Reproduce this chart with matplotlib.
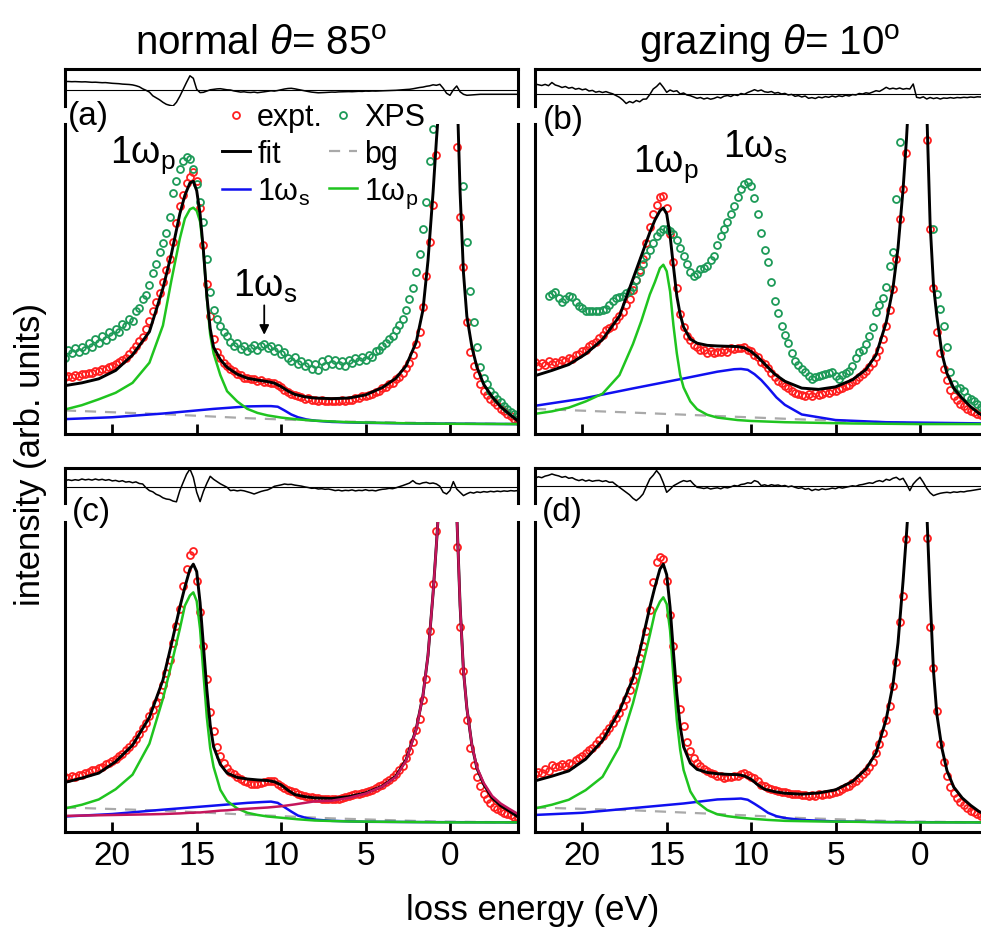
from matplotlib import pyplot as plt
from matplotlib.lines import Line2D
import numpy as np

plt.rcParams['font.family'] = ['Liberation Sans', 'DejaVu Sans']
plt.rcParams['mathtext.fontset'] = 'custom'
plt.rcParams['mathtext.rm'] = 'Liberation Sans'
plt.rcParams['mathtext.it'] = 'Liberation Sans:italic'
plt.rcParams['mathtext.bf'] = 'Liberation Sans:bold'

# ---------------------------------------------------------------- data
# measurement grid of the spectra (loss energy, eV), 0.2 eV steps
e_pts = np.round(np.linspace(22.8, -4.0, 135), 1)

# grids used for the fitted curves
e_fit = [22.8, 21.8, 20.8, 19.8, 18.8, 17.8, 17.0, 16.5, 16.0, 15.7, 15.4, 15.2, 15.0,
         14.8, 14.6, 14.4, 14.2, 14.0, 13.6, 13.2, 12.6, 12.0, 11.4, 10.8, 10.4, 10.0,
         9.6, 9.2, 8.6, 8.0, 7.0, 6.0, 5.0, 4.0, 3.2, 2.6, 2.0, 1.6, 1.3, 1.0, 0.8, 0.6,
         0.4, 0.0, -0.4, -0.6, -0.8, -1.0, -1.3, -1.6, -2.0, -2.5, -3.0, -3.5, -4.0]
e_p = [22.8, 21.8, 20.8, 19.8, 18.8, 17.8, 17.0, 16.5, 16.0, 15.7, 15.4, 15.2, 15.0,
       14.8, 14.6, 14.4, 14.2, 14.0, 13.6, 13.2, 12.6, 12.0, 11.4, 10.8, 10.0, 9.0,
       8.0, 6.0, 4.0, 2.0, 0.0, -4.0]
e_s = [22.8, 20.0, 17.0, 14.0, 12.0, 11.0, 10.6, 10.2, 9.8, 9.4, 9.0, 8.5, 8.0, 7.0,
       5.0, 2.0, -4.0]
e_bg = [22.8, 17.0, 12.0, 7.0, 1.0, -4.0]

# --- (a) normal, clean
expt_a = [18.3, 18.7, 18.4, 19.0, 18.8, 19.4, 19.2, 19.8, 19.6, 20.2,
          20.3, 20.9, 21.0, 21.6, 21.8, 22.6, 23.1, 24.0, 24.4, 25.7,
          27.0, 28.4, 29.9, 31.4, 33.8, 36.5, 39.7, 42.5, 45.4, 49.0,
          52.8, 56.5, 62.0, 68.0, 73.5, 77.0, 81.0, 83.0, 84.4, 81.5,
          73.0, 61.0, 48.5, 38.0, 30.5, 26.4, 24.5, 23.0, 22.0, 21.0,
          20.2, 19.5, 18.9, 18.2, 18.2, 17.7, 17.7, 17.2, 17.3, 16.9,
          16.9, 16.4, 16.3, 15.8, 15.3, 14.3, 13.7, 13.0, 12.7, 12.1,
          11.9, 11.4, 11.5, 11.1, 11.1, 10.8, 10.9, 10.7, 10.8, 10.7,
          10.8, 10.7, 10.9, 10.8, 11.1, 11.1, 11.5, 11.6, 12.1, 12.2,
          12.7, 12.9, 13.4, 13.8, 14.7, 15.1, 16.1, 16.5, 17.6, 18.4,
          19.8, 21.2, 23.0, 25.5, 29.0, 32.8, 41.0, 51.0, 61.8, 74.0,
          90.0, 112, 140, 200, 300, 200, 92.5, 70, 54, 36,
          26.5, 22.0, 19.0, 16.0, 14.0, 12.5, 11.4, 10.2, 9.2, 8.2,
          7.3, 6.5, 5.8, 4.9, 4.3]
xps_a = [24.5, 27.0, 26.0, 27.6, 26.4, 28.0, 27.2, 29.5, 28.2, 30.6,
         29.4, 31.5, 30.2, 32.8, 31.5, 34.0, 33.0, 35.5, 34.8, 37.2,
         36.6, 39.8, 40.5, 43.5, 45.0, 48.0, 52.0, 55.0, 58.6, 61.5,
         65.0, 70.0, 77.9, 81.5, 85.5, 88.0, 89.3, 88.7, 85.5, 80.5,
         74.7, 68.3, 56.5, 45.7, 40.0, 37.0, 35.0, 33.0, 31.7, 29.8,
         28.5, 29.2, 27.4, 28.3, 26.8, 27.6, 28.6, 27.2, 28.4, 28.9,
         27.6, 28.3, 26.8, 27.6, 25.8, 26.5, 24.4, 23.6, 24.8, 22.6,
         23.4, 21.8, 22.9, 21.0, 22.6, 20.8, 23.4, 22.0, 24.1, 22.5,
         23.8, 22.2, 23.5, 22.0, 23.9, 22.8, 24.5, 23.4, 24.9, 24.0,
         25.6, 25.0, 26.8, 27.0, 28.5, 29.4, 30.6, 31.5, 33.4, 35.2,
         37.1, 40.0, 43.6, 47.0, 52.2, 58.0, 66.0, 75.0, 88.0, 98.4,
         115, 140, 180, 240, 300, 240, 130, 102, 80, 61.8,
         46.0, 36.0, 28.0, 21.5, 18.0, 16.0, 14.0, 12.5, 11.3, 10.2,
         9.0, 8.0, 7.2, 6.5, 5.8]
fit_a = [15.6, 16.5, 17.8, 20.5, 25.5, 33, 47, 58, 71, 77, 81, 81.5, 78.5,
         71, 59, 44.5, 34, 28, 24, 21.5, 19.3, 18, 17.4, 16.9, 16.4, 15.3,
         13.9, 12.8, 12, 11.6, 11.4, 11.6, 12.6, 15, 18, 22, 29.6, 40, 56, 78, 95, 110,
         140, 500, 115, 78, 52, 38, 28, 21.5, 16, 12, 8.8, 6.5, 4.3]
wp_a = [7.9, 9.3, 11.2, 13.3, 16.5, 23, 35, 49.5, 63, 69.5, 72.5, 73, 72,
        68.5, 59, 44, 32, 26, 19, 13.8, 10.5, 8.1, 6.8, 6.0, 5.3, 4.7,
        4.3, 3.8, 3.6, 3.4, 3.3, 3.2]
ws_a = [4.8, 5.4, 6.6, 8.1, 8.9, 9.0, 9.0, 8.8, 7.6, 6.3, 5.4, 4.7, 4.3, 3.9,
        3.6, 3.4, 3.2]
bg_a = [7.6, 6.4, 5.1, 4.1, 3.5, 3.2]
res_a = [8.8, 8.8, 8.6, 8.7, 8.5, 8.4, 8.5, 8.2, 8.0, 8.1,
         7.8, 7.6, 7.7, 7.3, 7.0, 6.8, 6.6, 6.2, 6.0, 5.8,
         5.4, 4.6, 3.5, 1.5, 0.0, -1.8, -5.5, -7.5, -9.5, -12.0,
         -14.0, -15.0, -15.7, -12.0, -6.0, 1.0, 8.0, 14.5, 12.0, 1.0,
         -2.3, -2.0, -0.8, 0.5, 1.0, 1.4, 1.6, 1.0, 0.5, 0.3,
         -0.6, -1.2, -1.8, -1.5, -2.0, -2.2, -1.8, -2.4, -2.0, -1.5,
         -1.0, -0.5, -0.8, -0.2, 0.6, 1.3, 1.8, 2.0, 1.5, 0.8,
         0.2, -0.5, -1.2, -1.8, -2.2, -2.5, -2.4, -2.2, -2.0, -1.8,
         -1.9, -1.6, -1.5, -1.5, -1.3, -1.4, -1.2, -1.0, -1.1, -0.8,
         -0.9, -0.7, -0.8, -0.6, -0.5, -0.4, -0.2, -0.2, 0.0, 0.3,
         0.6, 0.8, 1.0, 1.5, 2.2, 2.8, 3.2, 4.0, 4.5, 5.5,
         5.0, 6.0, 2.0, -3.0, -5.0, 0.5, 4.3, -1.5, -4.0, -5.0,
         -4.8, -4.5, -4.2, -4.0, -4.0, -4.1, -3.9, -4.0, -4.0, -4.1,
         -4.0, -3.9, -4.0, -4.0, -4.0]

# --- (b) grazing, clean
expt_b = [23.1, 22.0, 22.9, 22.3, 23.6, 22.5, 23.3, 22.9, 23.8, 23.4,
          24.6, 24.2, 25.6, 25.8, 26.9, 27.0, 28.4, 28.9, 29.6, 31.0,
          31.8, 33.5, 34.2, 35.0, 36.9, 38.2, 39.5, 41.5, 43.4, 46.5,
          49.6, 53.0, 56.3, 61.5, 66.8, 71.0, 73.8, 76.3, 76.9, 72.8,
          64.5, 55.5, 47.0, 38.8, 34.5, 31.6, 30.2, 28.6, 28.1, 27.0,
          27.2, 26.2, 26.8, 26.0, 26.5, 26.3, 27.2, 26.6, 27.7, 27.3,
          27.9, 27.6, 28.0, 27.2, 26.8, 25.6, 25.0, 23.3, 22.6, 21.2,
          19.8, 18.5, 17.2, 16.4, 15.6, 14.8, 14.0, 13.3, 13.0, 12.6,
          12.3, 12.9, 12.4, 13.1, 12.6, 12.9, 13.5, 13.2, 14.0, 13.8,
          14.5, 14.8, 15.6, 15.8, 16.8, 17.5, 18.4, 19.2, 20.3, 21.6,
          23.0, 25.0, 27.2, 30.8, 35.0, 40.0, 46.8, 56.5, 69.4, 79.0,
          90.5, 115, 150, 220, 320, 220, 95, 66, 47, 33,
          26.0, 21.0, 17.4, 14.3, 12.2, 11.0, 9.8, 9.0, 8.1, 7.5,
          7.0, 6.4, 6.0, 5.6, 5.2]
# XPS of (b) starts at 22.0 eV
xps_b = [44.6, 45.3, 45.7, 44.0, 42.5, 43.5, 44.6, 44.2, 42.6, 41.4,
         40.6, 39.8, 39.8, 39.8, 39.8, 39.8, 40.0, 40.3, 41.5, 43.0,
         43.8, 44.2, 44.6, 45.5, 46.2, 47.5, 49.6, 52.2, 54.8, 57.5,
         59.5, 61.5, 64.0, 65.2, 66.1, 66.1, 65.5, 64.5, 62.5, 60.0,
         57.5, 55.0, 52.2, 51.0, 51.5, 53.3, 53.5, 54.3, 56.0, 57.5,
         61.0, 64.0, 66.0, 68.3, 71.0, 73.7, 76.5, 79.0, 80.5, 81.2,
         80.1, 76.0, 71.0, 65.0, 59.5, 55.5, 49.0, 43.0, 39.0, 35.0,
         31.8, 29.5, 26.0, 23.4, 22.1, 21.0, 19.9, 18.8, 17.7, 18.4,
         18.8, 19.0, 19.4, 19.7, 19.9, 18.6, 17.7, 19.0, 19.6, 20.2,
         22.0, 24.5, 26.3, 27.0, 29.0, 31.5, 34.5, 39.2, 41.5, 44.0,
         47.3, 54.3, 58.6, 75.8, 94.1, 115, 140, 170, 210, 260,
         300, 250, 170, 104, 66.1, 45.2, 40.3, 35.0, 28.0, 19.9,
         16.0, 14.5, 15.0, 14.0, 12.0, 11.3, 10.5, 9.7, 8.6, 8.0,
         7.5]
fit_b = [18.8, 20.5, 22.4, 25.8, 30.5, 38, 50, 57.5, 65, 69, 72, 72.9, 71,
         64, 54, 44.5, 38.5, 34.5, 30.6, 29.3, 28.6, 28.4, 28.3, 28.2, 27.8, 26.6,
         24.8, 22.6, 19.3, 17, 14.8, 14.4, 15.2, 17.5, 20.8, 25.5, 36, 47, 60, 79, 95, 115,
         150, 500, 105, 68, 48, 38, 26, 19.5, 14.8, 11.5, 8.8, 6.6, 5.2]
wp_b = [6.5, 7.3, 8.5, 10.5, 13, 19, 29, 36.5, 45, 49, 53.5, 54.6, 52.5,
        46, 35, 26, 19, 15, 10.5, 8.0, 6.2, 5.3, 4.9, 4.5, 4.2, 4.0,
        3.8, 3.6, 3.4, 3.3, 3.2, 3.2]
ws_b = [9.1, 11.4, 14.7, 17.9, 20.1, 20.9, 21.0, 20.7, 19.3, 17.4, 15.0, 11.8, 9.4,
        6.3, 4.5, 3.8, 3.4]
bg_b = [8.1, 6.9, 5.8, 4.7, 3.6, 3.2]
res_b = [10.0, 9.2, 8.5, 9.6, 8.3, 11.5, 9.0, 8.0, 6.5, 7.5,
         5.8, 6.6, 4.8, 5.6, 4.2, 5.0, 3.0, 3.6, 1.8, 2.6,
         1.5, 2.4, 1.2, 0.2, -1.5, -3.3, -6.0, -9.5, -7.5, -8.8,
         -6.5, -7.8, -5.2, -5.0, -0.5, 5.0, 7.5, 11.0, 6.7, 1.7,
         4.0, 2.5, 3.3, 0.0, 1.0, -1.0, -1.7, -3.0, -4.3, -3.5,
         -5.0, -4.0, -5.2, -4.4, -3.0, -4.0, -2.2, -1.5, -2.5, -0.8,
         -1.5, 0.5, -0.3, 1.5, 2.8, 4.3, 3.0, 4.0, 2.2, 1.7,
         2.5, 0.8, 1.5, 0.0, 0.6, -1.0, -0.4, -2.3, -1.6, -3.0,
         -2.0, -4.3, -3.6, -4.5, -3.0, -3.8, -2.6, -3.3, -2.0, -3.0,
         -1.8, -2.5, -1.2, -2.0, -0.6, -1.0, 0.5, 0.0, 1.2, 0.6,
         2.0, 3.3, 2.6, 4.5, 6.7, 5.0, 5.8, 5.0, 6.0, 4.8,
         5.5, 5.0, 10.0, -3.3, -4.0, -2.8, -5.0, -3.5, -4.6, -3.8,
         -5.0, -4.0, -4.3, -3.6, -4.2, -3.5, -3.8, -3.3, -3.6, -3.0,
         -3.4, -2.8, -3.0, -2.5, -2.6]

# --- (c) normal, second data set (with elastic component)
expt_c = [17.6, 17.4, 18.0, 17.8, 18.5, 18.4, 19.1, 19.3, 19.9, 20.0,
          20.6, 21.0, 21.8, 22.1, 23.0, 23.6, 24.5, 25.2, 26.4, 27.4,
          28.6, 30.0, 31.6, 33.4, 35.2, 37.3, 39.4, 41.6, 44.0, 47.5,
          51.3, 55.5, 61.0, 66.5, 72.0, 79.5, 84.8, 89.5, 90.5, 81.0,
          71.0, 60.1, 49.3, 38.6, 32.5, 27.5, 24.6, 22.3, 20.5, 19.4,
          18.6, 17.8, 17.2, 16.6, 16.0, 15.6, 15.4, 15.5, 15.8, 16.2,
          16.4, 16.6, 16.3, 15.6, 14.9, 14.2, 13.6, 13.1, 12.8, 12.3,
          12.0, 11.7, 11.4, 11.2, 11.0, 10.9, 10.7, 10.6, 10.6, 10.6,
          10.7, 10.8, 11.0, 11.2, 11.5, 11.8, 12.1, 12.4, 12.7, 12.9,
          13.3, 13.7, 14.1, 14.7, 15.2, 16.1, 16.9, 17.6, 18.6, 19.9,
          21.4, 23.8, 26.0, 29.0, 33.0, 36.4, 42.5, 49.3, 64.9, 80.0,
          97.2, 125, 160, 230, 330, 230, 92, 66, 52, 36,
          27.0, 21.5, 17.8, 15.0, 12.4, 10.6, 9.3, 8.2, 7.4, 6.7,
          6.1, 5.8, 5.4, 5.0, 4.2]
fit_c = [16, 17.4, 19, 22.7, 28, 37, 49, 60.5, 72.5, 79, 84.8, 86.4, 84,
         74, 60, 46, 34.5, 27.5, 21.8, 19, 17.6, 17.1, 16.8, 16.6, 16.2, 15.2,
         13.5, 12.1, 11.4, 11, 10.8, 11.4, 12.6, 14.8, 18, 23.3, 33.2, 44, 57, 77, 93, 110,
         140, 500, 103, 73, 52, 40, 28, 20.5, 15.4, 11, 8.5, 6.8, 5.0]
el_c = [5.2, 5.3, 5.4, 5.5, 5.6, 5.7, 5.8, 5.9, 6.0, 6.1, 6.2, 6.2, 6.3,
        6.3, 6.4, 6.5, 6.6, 6.7, 6.9, 7.0, 7.3, 7.5, 7.7, 7.9, 8.1, 8.3,
        8.6, 8.9, 9.4, 9.9, 10.1, 11.0, 12.4, 14.7, 17.8, 23, 33, 44, 57, 77, 93, 110,
        140, 500, 103, 73, 52, 40, 28, 20.8, 15.8, 11.6, 9.2, 7.5, 5.9]
wp_c = [7.6, 8.8, 10.5, 13.8, 18.5, 28.5, 43, 54, 65.5, 73, 76.3, 77.3, 74.5,
        65.5, 51, 37, 27, 21, 13.6, 10, 7.6, 6.2, 5.5, 5.0, 4.6, 4.1,
        3.7, 3.4, 3.3, 3.2, 3.1, 3.1]
ws_c = [5.0, 5.8, 7.2, 8.5, 9.4, 9.7, 9.8, 9.4, 8.0, 6.6, 5.3, 4.5, 4.0, 3.6,
        3.3, 3.2, 3.1]
bg_c = [7.9, 6.9, 5.6, 4.4, 3.4, 3.1]
res_c = [6.7, 7.5, 6.8, 7.6, 7.0, 8.3, 7.4, 8.0, 7.2, 8.3,
         7.3, 8.0, 7.0, 7.7, 6.4, 6.9, 5.8, 6.6, 5.2, 5.7,
         4.6, 5.4, 3.8, 3.3, -0.5, -3.3, -4.5, -7.0, -8.3, -10.5,
         -11.7, -12.2, -13.8, -14.5, -3.3, 5.0, 13.0, 18.3, 10.0, -5.0,
         -14.3, -4.0, 4.0, 11.0, 8.0, 5.7, 3.5, 1.7, 0.0, -3.3,
         -2.8, -3.6, -3.0, -3.5, -4.5, -5.5, -6.7, -5.5, -4.2, -3.3,
         -2.6, -1.0, 1.0, 1.7, 2.4, 3.3, 2.8, 3.0, 2.2, 1.7,
         1.2, 0.4, -0.2, -1.0, -0.8, -1.7, -1.4, -2.0, -1.7, -2.4,
         -3.3, -2.8, -3.6, -3.0, -3.3, -2.6, -3.6, -3.0, -3.3, -2.4,
         -3.3, -3.0, -3.6, -2.6, -2.0, -1.7, -1.0, -1.4, -0.5, 0.6,
         1.7, 3.0, 4.2, 6.7, 4.0, 3.3, 4.5, 5.0, 3.8, 4.3,
         3.3, 1.0, -5.0, -6.7, -3.3, 5.7, -1.7, -5.0, -8.3, -6.5,
         -5.0, -5.8, -4.6, -5.2, -4.3, -4.8, -4.0, -4.5, -3.8, -4.3,
         -3.6, -4.0, -3.3, -3.7, -3.3]

# --- (d) grazing, second data set
expt_d = [18.7, 19.5, 19.0, 20.2, 19.8, 21.6, 21.0, 21.3, 21.9, 21.2,
          22.4, 22.0, 23.1, 23.8, 24.4, 25.4, 26.3, 27.0, 28.4, 29.6,
          31.0, 32.3, 33.6, 35.2, 36.8, 38.5, 40.6, 43.0, 45.8, 49.0,
          52.4, 56.0, 60.1, 65.0, 71.5, 80.5, 87.0, 88.6, 88.1, 81.0,
          70.0, 60.0, 49.3, 39.7, 34.3, 28.9, 26.0, 23.8, 22.4, 21.4,
          20.4, 19.8, 19.0, 18.8, 18.2, 18.0, 17.5, 17.8, 17.6, 18.2,
          18.0, 18.6, 18.9, 18.4, 17.8, 17.3, 16.4, 15.3, 14.7, 14.2,
          13.9, 13.6, 13.3, 13.0, 12.9, 12.5, 12.4, 12.1, 12.3, 11.8,
          11.9, 11.6, 11.9, 11.7, 12.1, 11.9, 12.2, 12.1, 12.6, 12.8,
          13.3, 13.8, 14.4, 15.0, 15.9, 16.6, 17.4, 18.6, 19.8, 21.0,
          22.6, 25.5, 28.5, 32.0, 36.0, 40.5, 47.2, 54.7, 67.6, 76.2,
          94.5, 120, 160, 230, 330, 230, 95, 66, 53, 39,
          28.5, 22.5, 18.0, 14.5, 12.5, 11.0, 9.7, 8.6, 7.7, 6.9,
          6.3, 5.7, 5.3, 4.9, 4.6]
fit_d = [16.5, 18, 19.7, 23.5, 29.5, 39, 49.5, 60.5, 72.5, 79, 84.8, 86.4, 83,
         72.5, 58, 44.5, 34, 27.5, 22.2, 20.2, 19.2, 18.8, 18.6, 18.5, 18.1, 17.0,
         15.2, 13.8, 13, 12.5, 12.2, 12.6, 13.6, 16.3, 20.3, 25.5, 36.4, 47.5, 61, 81, 96, 112,
         145, 500, 104, 76, 52, 38, 27, 19.8, 14.5, 11, 8.6, 6.6, 5.4]
wp_d = [7.6, 8.8, 10.4, 13.5, 17.8, 27.5, 41.5, 52, 63.5, 70.8, 74.3, 75.7, 73.5,
        65, 50, 36, 26.5, 20, 13.1, 9.6, 7.1, 5.7, 5.1, 4.7, 4.3, 3.9,
        3.6, 3.4, 3.3, 3.2, 3.1, 3.1]
ws_d = [5.5, 6.2, 7.7, 9.2, 10.5, 10.7, 10.8, 10.4, 9.1, 7.7, 6.2, 5.1, 4.5, 3.9,
        3.4, 3.2, 3.1]
bg_d = [7.9, 7.0, 5.8, 4.5, 3.4, 3.1]
res_d = [8.0, 9.5, 8.6, 10.2, 11.0, 12.3, 11.2, 10.4, 9.0, 9.8,
         8.0, 8.6, 6.8, 5.7, 6.8, 5.2, 6.2, 5.0, 5.7, 5.9,
         4.8, 5.6, 4.0, 4.2, 1.5, -1.0, -3.5, -6.0, -8.5, -12.0,
         -14.3, -11.5, -7.7, 0.0, 7.3, 11.0, 15.7, 11.5, 3.5, -6.0,
         -3.0, 0.5, 2.3, 4.2, 5.7, 4.8, 5.7, 2.0, -1.0, -1.5,
         -2.2, -1.4, -2.7, -2.0, -1.5, -2.5, -1.0, -1.6, -0.6, 0.8,
         0.2, 1.8, 2.3, 3.5, 3.0, 5.7, 4.5, 0.7, 1.5, 0.4,
         1.6, 0.8, 1.3, 0.2, 0.8, -0.5, 0.3, -1.0, -2.0, -1.4,
         -3.0, -2.2, -4.3, -3.0, -3.8, -2.5, -3.2, -2.7, -1.8, -2.4,
         -1.0, -1.8, -1.0, -0.2, 0.5, 0.0, 1.3, 1.8, 2.6, 3.5,
         3.0, 4.8, 5.7, 4.6, 7.0, 6.0, 8.0, 9.0, 6.5, 8.0,
         2.3, -4.3, 2.3, 6.0, 9.0, 4.0, -2.0, -6.5, -9.3, -8.0,
         -7.0, -6.4, -6.0, -6.5, -5.6, -6.0, -5.3, -5.6, -4.8, -4.4,
         -3.8, -3.2, -2.7, -2.4, -2.2]

x_ticks = [20, 15, 10, 5, 0]
x_range = (22.8, -4.0)

# ---------------------------------------------------------------- style
C_EXPT = '#ff1f1f'
C_XPS = '#1d9a58'
C_P = '#1fc41f'
C_S = '#1010f0'
C_BG = '#a9a9a9'
C_EL = '#c4155c'
LW_SPINE = 2.2
MS = 5.0
MEW = 1.3

W, H = 981, 929
fig = plt.figure(figsize=(W / 100, H / 100), dpi=100)


def px_box(x0, y0, x1, y1):
    """pixel box (top-left origin) -> figure fraction rect"""
    return [x0 / W, 1 - y1 / H, (x1 - x0) / W, (y1 - y0) / H]


def draw_panel(col, row, expt, fit, wp, ws, bg, resid, res_lim, label,
               xps=None, el=None):
    """one residual strip plus one spectrum panel"""
    x0 = [65, 535][col]
    x1 = x0 + 452.5
    res_top, res_bot = [(70, 107), (469, 504)][row]
    main_top, main_bot = [(125, 435), (523, 833)][row]

    # residual strip
    axr = fig.add_axes(px_box(x0, res_top, x1, res_bot))
    axr.axhline(0, color='k', lw=0.8)
    axr.plot(e_pts, resid, color='k', lw=1.1)
    axr.set_xlim(*x_range)
    axr.set_ylim(*res_lim)
    axr.set_xticks([])
    axr.set_yticks([])
    axr.spines['bottom'].set_visible(False)
    for sp in ['top', 'left', 'right']:
        axr.spines[sp].set_linewidth(LW_SPINE)

    # spectrum
    ax = fig.add_axes(px_box(x0, main_top, x1, main_bot))
    ax.plot(e_pts, expt, 'o', mfc='none', mec=C_EXPT, ms=MS, mew=MEW)
    if xps is not None:
        ax.plot(e_pts[len(e_pts) - len(xps):], xps, 'o', mfc='none', mec=C_XPS,
                ms=MS, mew=MEW)
    ax.plot(e_bg, bg, color=C_BG, lw=1.6, dashes=(5, 4))
    ax.plot(e_s, ws, color=C_S, lw=1.8)
    ax.plot(e_p, wp, color=C_P, lw=1.8)
    ax.plot(e_fit, fit, color='k', lw=2.1)
    if el is not None:
        ax.plot(e_fit, el, color=C_EL, lw=1.8)

    ax.set_xlim(*x_range)
    ax.set_ylim(0, 100)
    ax.set_xticks(x_ticks)
    ax.set_yticks([])
    ax.tick_params(axis='x', direction='in', length=7, width=2, labelsize=24, pad=6,
                   labelbottom=(row == 1))
    ax.spines['top'].set_visible(False)
    for sp in ['bottom', 'left', 'right']:
        ax.spines[sp].set_linewidth(LW_SPINE)

    lx, ly = [[(68, 117), (543, 121)], [(72, 513), (542, 513)]][row][col]
    fig.text(lx / W, 1 - ly / H, label, fontsize=24, ha='left', va='center')
    return ax


ax_a = draw_panel(0, 0, expt_a, fit_a, wp_a, ws_a, bg_a, res_a, (-15.7, 21.3), '(a)', xps=xps_a)
ax_b = draw_panel(1, 0, expt_b, fit_b, wp_b, ws_b, bg_b, res_b, (-12.0, 25.0), '(b)', xps=xps_b)
ax_c = draw_panel(0, 1, expt_c, fit_c, wp_c, ws_c, bg_c, res_c, (-15.7, 19.3), '(c)', el=el_c)
ax_d = draw_panel(1, 1, expt_d, fit_d, wp_d, ws_d, bg_d, res_d, (-16.7, 18.3), '(d)')

# legend of panel (a)
handles = [
    Line2D([], [], ls='none', marker='o', mfc='none', mec=C_EXPT, ms=MS, mew=MEW),
    Line2D([], [], color='k', lw=2.1),
    Line2D([], [], color=C_S, lw=1.8),
    Line2D([], [], ls='none', marker='o', mfc='none', mec=C_XPS, ms=MS, mew=MEW),
    Line2D([], [], color=C_BG, lw=1.6, dashes=(5, 4)),
    Line2D([], [], color=C_P, lw=1.8),
]
labels = ['expt.', 'fit', r'1ω$_\mathrm{s}$', 'XPS', 'bg', r'1ω$_\mathrm{p}$']
ax_a.legend(handles, labels, ncol=2, loc='upper left', bbox_to_anchor=(0.347, 1.07),
            frameon=False, fontsize=22, handlelength=0.9, handletextpad=0.25,
            columnspacing=0.2, labelspacing=0.22, borderpad=0, borderaxespad=0)

# peak annotations
ax_a.text(20.14, 87.7, r'1ω$_\mathrm{p}$', fontsize=27, ha='left', va='baseline')
ax_a.text(12.86, 44.5, r'1ω$_\mathrm{s}$', fontsize=27, ha='left', va='baseline')
ax_a.annotate('', xy=(11.0, 32.0), xytext=(11.0, 41.5),
              arrowprops=dict(arrowstyle='-|>', color='k', lw=1.3, mutation_scale=14,
                              shrinkA=0, shrinkB=0))
ax_b.text(16.98, 84.8, r'1ω$_\mathrm{p}$', fontsize=27, ha='left', va='baseline')
ax_b.text(11.65, 89.4, r'1ω$_\mathrm{s}$', fontsize=27, ha='left', va='baseline')

# titles and axis labels
fig.text(261 / W, 1 - 55 / H, r'normal $\theta$= 85$^\mathrm{o}$', fontsize=29,
         ha='center', va='baseline')
fig.text(770 / W, 1 - 55 / H, r'grazing $\theta$= 10$^\mathrm{o}$', fontsize=29,
         ha='center', va='baseline')
fig.text(31 / W, 1 - 454 / H, 'intensity (arb. units)', fontsize=25, rotation=90,
         ha='center', va='center')
fig.text(533 / W, 1 - 920 / H, 'loss energy (eV)', fontsize=25, ha='center', va='baseline')

fig.savefig('out.png', dpi=100)
